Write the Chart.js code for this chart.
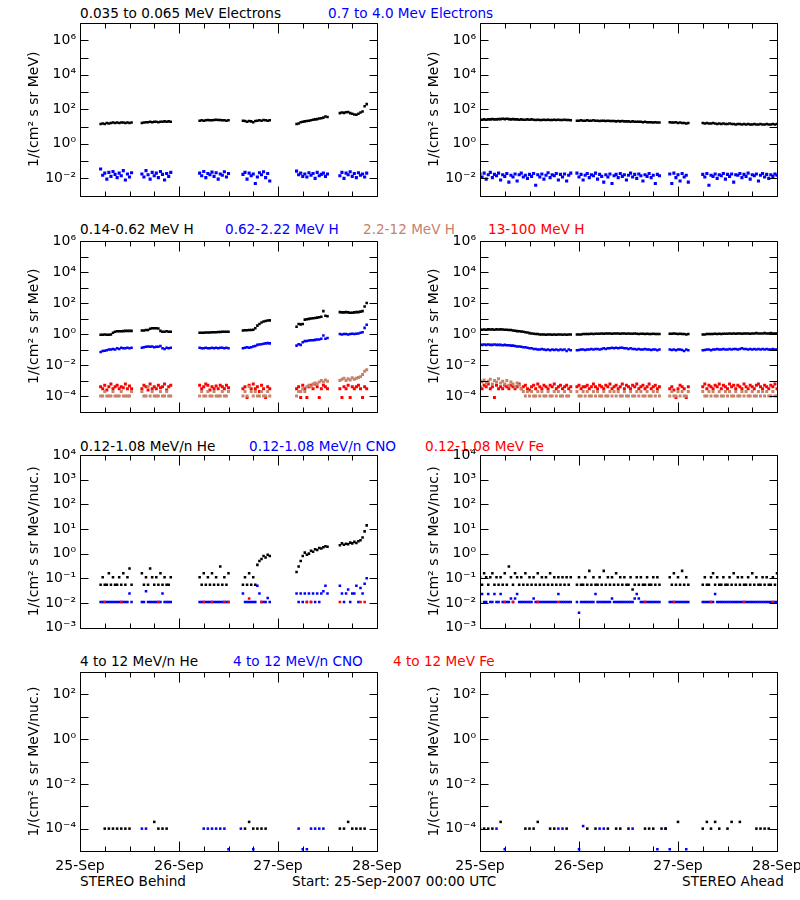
<!DOCTYPE html>
<html>
<head>
<meta charset="utf-8">
<script src="https://cdn.jsdelivr.net/npm/chart.js@4"></script>
<style>
  body { margin: 0; background: #fff; width: 800px; height: 900px; position: relative; overflow: hidden; font-family: "DejaVu Sans", sans-serif; }
  canvas { position: absolute; }
  .t { position: absolute; font-size: 13.6px; line-height: 16px; white-space: nowrap; }
</style>
</head>
<body>
<div class="t" style="left:80px;top:5px;color:#000">0.035 to 0.065 MeV Electrons</div>
<div class="t" style="left:328px;top:5px;color:#0000ff">0.7 to 4.0 Mev Electrons</div>
<div class="t" style="left:80px;top:221px;color:#000">0.14-0.62 MeV H</div>
<div class="t" style="left:225px;top:221px;color:#0000ff">0.62-2.22 MeV H</div>
<div class="t" style="left:363px;top:221px;color:#c8826a">2.2-12 MeV H</div>
<div class="t" style="left:488px;top:221px;color:#ff0000">13-100 MeV H</div>
<div class="t" style="left:80px;top:438px;color:#000">0.12-1.08 MeV/n He</div>
<div class="t" style="left:249px;top:438px;color:#0000ff">0.12-1.08 MeV/n CNO</div>
<div class="t" style="left:425px;top:438px;color:#ff0000">0.12-1.08 MeV Fe</div>
<div class="t" style="left:80px;top:653px;color:#000">4 to 12 MeV/n He</div>
<div class="t" style="left:233px;top:653px;color:#0000ff">4 to 12 MeV/n CNO</div>
<div class="t" style="left:393px;top:653px;color:#ff0000">4 to 12 MeV Fe</div>
<div class="t" style="left:80px;top:873px;color:#000">STEREO Behind</div>
<div class="t" style="left:292px;top:873px;color:#000">Start: 25-Sep-2007 00:00 UTC</div>
<div class="t" style="left:682px;top:873px;color:#000">STEREO Ahead</div>

<canvas id="b1"></canvas><canvas id="a1"></canvas>
<canvas id="b2"></canvas><canvas id="a2"></canvas>
<canvas id="b3"></canvas><canvas id="a3"></canvas>
<canvas id="b4"></canvas><canvas id="a4"></canvas>

<script>
const FONT = '"DejaVu Sans", sans-serif';
const BLACK = '#000000', BLUE = '#0000ff', BROWN = '#c8826a', RED = '#ff0000';

// x axis: hours since 25-Sep-2007 00:00 UTC
const dayHours = [0, 24, 48, 72];
const dayLabels = ['25-Sep', '26-Sep', '27-Sep', '28-Sep'];

// y tick labels per row
const elecTicks = [1e-2, 1, 1e2, 1e4, 1e6];
const protTicks = [1e-4, 1e-2, 1, 1e2, 1e4, 1e6];
const ionTicks = [1e-3, 1e-2, 1e-1, 1, 1e1, 1e2, 1e3, 1e4];
const hiTicks = [1e-4, 1e-2, 1, 1e2];

// Data segments: [start hour, values every 30 min]. Sparse series: [hour, value].

// ---- STEREO Behind ----
const behE1 = [
  [5, [14,15,14,16,15,16,17,16,17,16,17,17,16,17,16,17]],
  [15, [16,17,18,18,19,18,19,19,18,19,19,20,19,20,19]],
  [29, [22,23,22,23,24,23,23,24,25,24,24,23,23,22,23]],
  [39.5, [22,21,19,21,20,18,21,22,23,22,24,23,22,23]],
  [52.5, [14,15,18,19,20,21,22,23,25,26,27,29,30,33,38,36]],
  [63, [60,65,62,68,70,60,55,50,48,55,65,75,150,200]]
];
const behE2 = [
  [5, [0.035,0.015,0.02,0.009,0.022,0.013,0.025,0.017,0.011,0.02,0.014,0.028,0.008,0.018,0.012,0.021]],
  [15, [0.018,0.012,0.028,0.016,0.009,0.022,0.014,0.02,0.011,0.025,0.017,0.008,0.019,0.013,0.022]],
  [29, [0.02,0.014,0.025,0.011,0.019,0.016,0.023,0.013,0.021,0.009,0.018,0.015,0.024,0.012,0.019]],
  [39.5, [0.017,0.022,0.009,0.02,0.014,0.018,0.005,0.012,0.021,0.016,0.024,0.011,0.019,0.007]],
  [52.5, [0.026,0.016,0.02,0.013,0.018,0.012,0.021,0.015,0.019,0.01,0.022,0.014,0.017,0.02,0.013,0.018]],
  [63, [0.014,0.022,0.01,0.02,0.016,0.024,0.013,0.019,0.011,0.021,0.015,0.018,0.012,0.02]]
];

const behH1 = [
  [5, [0.9,0.9,0.95,0.9,0.9,0.95,1.2,1.4,1.5,1.5,1.5,1.55,1.6,1.6,1.6,1.6]],
  [15, [1.7,1.7,1.8,1.8,2.2,2.4,2.4,2.4,2.3,1.6,1.4,1.4,1.5,1.4,1.4]],
  [29, [1.2,1.2,1.2,1.25,1.25,1.25,1.3,1.3,1.3,1.35,1.35,1.4,1.4,1.4,1.4]],
  [39.5, [1.7,1.75,1.75,1.8,1.8,1.9,2.4,3.5,4.5,5.5,6.5,7,7.5,7.6]],
  [52.5, [3.0,4.4,4.2,4.5,8.5,9,9.5,10,10.5,11,11.5,12,13,30,15,14]],
  [63, [26,25,25,26,25,24,24,25,26,26,28,30,60,100]]
];
const behH2 = [
  [5, [0.07,0.08,0.085,0.09,0.1,0.1,0.11,0.1,0.12,0.11,0.13,0.12,0.12,0.13,0.12,0.13]],
  [15, [0.13,0.14,0.15,0.16,0.15,0.16,0.14,0.15,0.15,0.17,0.12,0.11,0.13,0.12,0.13]],
  [29, [0.13,0.12,0.12,0.13,0.12,0.12,0.13,0.12,0.13,0.12,0.13,0.13,0.12,0.13,0.12]],
  [39.5, [0.12,0.13,0.14,0.13,0.14,0.16,0.17,0.2,0.21,0.22,0.24,0.25,0.26,0.25]],
  [52.5, [0.18,0.22,0.2,0.3,0.35,0.36,0.38,0.4,0.4,0.42,0.45,0.45,0.5,0.8,0.5,0.55]],
  [63, [1.0,0.95,1.0,1.0,0.95,1.0,1.05,1.0,1.05,1.1,1.2,1.3,2.5,4.0]]
];
const behH3 = [
  [5, [1e-4,1e-4,2e-4,1e-4,1e-4,1e-4,2e-4,1e-4,1e-4,1e-4,2e-4,1e-4,1e-4,1e-4,1e-4,2e-4]],
  [15, [2e-4,1e-4,1e-4,4e-4,1e-4,2e-4,1e-4,1e-4,1e-4,2e-4,1e-4,1e-4,2e-4,1e-4,1e-4]],
  [29, [1e-4,2e-4,1e-4,1e-4,2e-4,1e-4,1e-4,2e-4,1e-4,1e-4,1e-4,2e-4,1e-4,1e-4,2e-4]],
  [39.5, [1e-4,2e-4,1e-4,4e-4,2e-4,1e-4,2e-4,1e-4,1e-4,2e-4,1e-4,1e-4,2e-4,1e-4]],
  [52.5, [1e-4,2e-4,2e-4,3e-4,2e-4,4e-4,5e-4,4e-4,6e-4,7e-4,6e-4,8e-4,1e-3,8e-4,1.1e-3,9e-4]],
  [63, [1e-3,1.2e-3,1.4e-3,1e-3,1.3e-3,1.1e-3,1.5e-3,1.2e-3,1.4e-3,1.6e-3,1.8e-3,2.5e-3,4e-3,5e-3]]
];
const behH4 = [
  [5, [4e-4,3e-4,5e-4,2.5e-4,4e-4,6e-4,3e-4,4e-4,5e-4,3e-4,4e-4,3.5e-4,6e-4,3e-4,4.5e-4,3e-4]],
  [15, [3e-4,5e-4,4e-4,2.5e-4,6e-4,3e-4,4e-4,3e-4,5e-4,3.5e-4,4e-4,6e-4,2.5e-4,4e-4,5e-4]],
  [29, [5e-4,3e-4,4e-4,6e-4,5e-4,2.5e-4,4e-4,3e-4,4.5e-4,3e-4,5e-4,4e-4,3e-4,5e-4,3.5e-4]],
  [39.5, [3e-4,4e-4,8e-5,5e-4,3e-4,6e-4,3e-4,4e-4,2e-4,5e-4,3e-4,8e-5,4e-4,3e-4]],
  [52.5, [3e-4,4e-4,8e-5,5e-4,3e-4,8e-5,4e-4,5e-4,3e-4,6e-4,4e-4,8e-5,3e-4,5e-4,4e-4,3e-4]],
  [63, [3e-4,8e-5,4e-4,3e-4,5e-4,8e-5,4e-4,3e-4,4e-4,5e-4,3e-4,8e-5,4e-4,3e-4]]
];

const behHe = [
  [5, [0.055,0.11,0.055,0.055,0.16,0.055,0.11,0.055,0.055,0.11,0.055,0.16,0.055,0.11,0.25,0.055]],
  [15, [0.16,0.055,0.11,0.055,0.25,0.11,0.055,0.11,0.055,0.16,0.055,0.11,0.055,0.055,0.11]],
  [29, [0.11,0.055,0.16,0.055,0.11,0.055,0.16,0.055,0.11,0.055,0.3,0.055,0.11,0.055,0.16]],
  [39.5, [0.055,0.11,0.055,0.16,0.055,0.11,0.055,0.35,0.5,0.6,0.8,0.7,0.9,0.8]],
  [52.5, [0.18,0.3,0.5,0.8,1.1,0.9,1.0,1.3,1.2,1.5,1.4,1.7,1.6,1.8,2.0,1.9]],
  [63, [2.2,2.6,2.3,2.5,2.4,2.8,2.6,3.0,2.7,3.2,3.5,4.5,8,14]]
];
const behCNO = [
  [5, [0.011,0.011,0.011,0.011,0.011,0.011,0.011,0.011,0.011,0.011,0.011,0.011,0.011,0.011,0.024,0.011]],
  [15, [0.011,0.011,0.03,0.011,0.011,0.011,0.011,0.011,0.011,0.011,0.024,0.011,0.011,0.011,0.011]],
  [29, [0.011,0.011,0.011,0.011,0.011,0.011,0.011,0.011,0.011,0.011,0.011,0.011,0.011,0.011,0.011]],
  [39.5, [0.024,0.011,0.011,0.011,0.011,0.011,0.011,0.05,0.024,0.011,0.011,0.011,0.016,0.011]],
  [52.5, [0.024,0.011,0.024,0.011,0.024,0.011,0.024,0.011,0.024,0.011,0.024,0.011,0.024,0.03,0.05,0.024]],
  [63, [0.05,0.024,0.011,0.024,0.035,0.011,0.024,0.024,0.05,0.011,0.04,0.024,0.06,0.1]]
];
const behFe = [[6,0.011],[10,0.011],[19,0.011],[30,0.011],[32,0.011],[35,0.011],[36,0.011],[41,0.015],[44,0.011],[55,0.011],[56,0.011],[63,0.011],[68,0.011],[69,0.011]];

const behHe4 = [[6,1e-4],[7,1e-4],[8,1e-4],[9,1e-4],[10,1e-4],[11,1e-4],[12,1e-4],[18,2e-4],[19,1e-4],[20,1e-4],[21,1e-4],[40,1e-4],[41,2e-4],[42,1e-4],[43,1e-4],[44,1e-4],[45,1e-4],[63,1e-4],[64,1e-4],[65,2e-4],[66,1e-4],[67,1e-4],[68,1e-4],[69,1e-4]];
const behCNO4 = [[15,1e-4],[16,1e-4],[30,1e-4],[31,1e-4],[32,1e-4],[33,1e-4],[34,1e-4],[35,1e-4],[36,1.2e-5],[39,1e-4],[42,1.2e-5],[53,1e-4],[54,1.2e-5],[55,1.2e-5],[56,1e-4],[57,1e-4],[58,1e-4],[59,1e-4]];
const behFe4 = [];

// ---- STEREO Ahead ----
const ahdE1 = [
  [0, [25,25,26,25,26,26,27,26,26,27,27,28,27,28,27,26,27,26,26,25,26,25,25,26,25,26,25,24,25,24,24,25,24,25,24,24,25,24,25,24,24,25,24,24,23]],
  [23.5, [22,22,23,22,22,23,22,22,23,22,22,21,22,22,21,22,21,21,21,20,21,20,21,20,20,20,19,20,19,19,19,19,18,19,18,18,18,17,18,17,17]],
  [46, [18,17,17,18,16,17,16,16,15,16]],
  [54, [16,15,16,15,15,16,15,14,15,14,15,14,14,15,14,14,13,14,14,13,14,13,14,13,13,14,13,13,14,13,13,14,13,13,14,13,14]]
];
const ahdE2 = [
  [0, [0.018,0.012,0.02,0.009,0.016,0.022,0.011,0.017,0.014,0.02,0.008,0.016,0.013,0.019,0.006,0.015,0.012,0.018,0.007,0.016,0.02,0.012,0.015,0.01,0.017,0.013,0.019,0.004,0.016,0.012,0.018,0.009,0.015,0.021,0.011,0.016,0.014,0.019,0.008,0.017,0.012,0.018,0.007,0.015,0.02]],
  [23.5, [0.02,0.012,0.017,0.008,0.015,0.019,0.011,0.016,0.014,0.02,0.009,0.017,0.013,0.006,0.016,0.012,0.018,0.005,0.014,0.017,0.011,0.019,0.013,0.016,0.008,0.015,0.02,0.012,0.017,0.01,0.018,0.014,0.007,0.016,0.013,0.019,0.011,0.015,0.005,0.017,0.014]],
  [46, [0.018,0.005,0.02,0.011,0.016,0.007,0.019,0.012,0.015,0.006]],
  [54, [0.017,0.012,0.019,0.004,0.015,0.013,0.018,0.01,0.016,0.014,0.019,0.009,0.017,0.013,0.018,0.006,0.016,0.015,0.019,0.011,0.017,0.013,0.02,0.009,0.016,0.014,0.018,0.007,0.015,0.019,0.012,0.017,0.01,0.016,0.013,0.018,0.015]]
];

const ahdH1 = [
  [0, [1.9,1.9,1.95,1.9,2.0,1.95,2.0,1.9,2.0,1.95,2.0,1.95,1.9,1.9,1.85,1.8,1.7,1.65,1.55,1.5,1.45,1.4,1.3,1.25,1.15,1.1,1.05,1.0,1.0,0.95,0.95,0.95,0.9,0.95,0.95,0.9,0.95,0.9,0.95,0.95,0.9,0.95,0.9,0.95,0.95]],
  [23.5, [0.95,0.95,0.95,1.0,1.0,1.0,1.0,1.05,1.0,1.05,1.05,1.05,1.1,1.05,1.1,1.1,1.1,1.05,1.1,1.1,1.1,1.05,1.1,1.1,1.05,1.1,1.05,1.05,1.1,1.05,1.0,1.05,1.05,1.0,1.05,1.0,1.0,1.05,1.0,1.0,1.0]],
  [46, [1.05,1.05,1.1,1.05,1.0,1.05,1.0,1.0,0.95,1.0]],
  [54, [0.95,0.95,1.0,1.0,1.0,1.0,1.05,1.0,1.05,1.0,1.05,1.05,1.05,1.1,1.05,1.1,1.05,1.1,1.1,1.05,1.1,1.1,1.1,1.05,1.1,1.1,1.15,1.1,1.1,1.1,1.15,1.1,1.1,1.15,1.1,1.1,1.1]]
];
const ahdH2 = [
  [0, [0.21,0.2,0.21,0.2,0.21,0.2,0.2,0.21,0.2,0.2,0.2,0.19,0.2,0.19,0.19,0.18,0.18,0.17,0.16,0.16,0.15,0.14,0.14,0.13,0.12,0.12,0.11,0.11,0.1,0.1,0.11,0.1,0.095,0.1,0.09,0.1,0.095,0.1,0.09,0.1,0.095,0.1,0.08,0.1,0.09]],
  [23.5, [0.09,0.095,0.1,0.1,0.095,0.1,0.1,0.11,0.1,0.11,0.11,0.1,0.11,0.12,0.11,0.12,0.12,0.13,0.12,0.13,0.12,0.13,0.13,0.12,0.12,0.11,0.12,0.11,0.11,0.1,0.11,0.1,0.1,0.11,0.1,0.1,0.095,0.1,0.1,0.09,0.1]],
  [46, [0.1,0.095,0.1,0.09,0.1,0.1,0.095,0.08,0.1,0.09]],
  [54, [0.09,0.095,0.1,0.1,0.09,0.1,0.1,0.11,0.1,0.1,0.11,0.1,0.1,0.11,0.1,0.11,0.11,0.1,0.11,0.12,0.11,0.11,0.1,0.11,0.1,0.11,0.1,0.11,0.1,0.11,0.1,0.11,0.1,0.1,0.11,0.1,0.1]]
];
const ahdH3 = [
  [0, [1e-3,8e-4,1.1e-3,7e-4,9e-4,1.2e-3,6e-4,1e-3,8e-4,1.3e-3,7e-4,9e-4,6e-4,1e-3,5e-4,8e-4,6e-4,4e-4,7e-4,5e-4,3e-4,2e-4,1e-4,2e-4,1e-4,2e-4,1e-4,1e-4,2e-4,1e-4,2e-4,1e-4,1e-4,2e-4,1e-4,1e-4,2e-4,1e-4,2e-4,1e-4,1e-4,2e-4,1e-4,1e-4,2e-4]],
  [23.5, [2e-4,1e-4,1e-4,2e-4,1e-4,2e-4,1e-4,1e-4,2e-4,1e-4,2e-4,1e-4,1e-4,2e-4,1e-4,1e-4,2e-4,1e-4,2e-4,1e-4,2e-4,1e-4,1e-4,2e-4,1e-4,1e-4,2e-4,1e-4,1e-4,2e-4,1e-4,2e-4,1e-4,1e-4,2e-4,1e-4,1e-4,2e-4,1e-4,2e-4,1e-4]],
  [46, [1e-4,2e-4,1e-4,1e-4,2e-4,1e-4,2e-4,1e-4,1e-4,2e-4]],
  [54, [2e-4,1e-4,1e-4,2e-4,1e-4,2e-4,1e-4,1e-4,2e-4,1e-4,1e-4,2e-4,1e-4,2e-4,1e-4,1e-4,2e-4,1e-4,1e-4,2e-4,1e-4,2e-4,1e-4,1e-4,2e-4,1e-4,1e-4,2e-4,1e-4,2e-4,1e-4,2e-4,1e-4,1e-4,2e-4,1e-4,1e-4]]
];
const ahdH4 = [
  [0, [4e-4,3e-4,5e-4,4e-4,6e-4,3e-4,4e-4,8e-5,5e-4,3e-4,4e-4,3e-4,5e-4,4e-4,3e-4,5e-4,4e-4,3e-4,4e-4,6e-4,3e-4,4e-4,5e-4,3e-4,2.5e-4,4e-4,5e-4,3e-4,6e-4,4e-4,3e-4,5e-4,4e-4,3e-4,5e-4,4e-4,6e-4,3e-4,4e-4,5e-4,3e-4,4e-4,5e-4,3e-4,4e-4]],
  [23.5, [4e-4,5e-4,3e-4,4e-4,4e-4,5e-4,3e-4,4e-4,6e-4,4e-4,3e-4,5e-4,4e-4,3e-4,5e-4,4e-4,6e-4,3e-4,4e-4,5e-4,3e-4,4e-4,6e-4,3e-4,5e-4,4e-4,3e-4,5e-4,4e-4,6e-4,3e-4,4e-4,5e-4,3e-4,4e-4,6e-4,3e-4,4e-4,5e-4,3e-4,4e-4]],
  [46, [3e-4,4e-4,2.5e-4,8e-5,3e-4,5e-4,4e-4,3e-4,8e-5,4e-4]],
  [54, [4e-4,6e-4,3e-4,5e-4,4e-4,3e-4,5e-4,4e-4,6e-4,3e-4,5e-4,4e-4,3e-4,6e-4,4e-4,5e-4,3e-4,5e-4,4e-4,3e-4,6e-4,4e-4,3e-4,5e-4,4e-4,3e-4,5e-4,6e-4,4e-4,3e-4,5e-4,4e-4,3e-4,5e-4,4e-4,6e-4,3e-4]]
];

const ahdHe = [
  [0, [0.11,0.055,0.16,0.11,0.055,0.11,0.16,0.055,0.11,0.055,0.11,0.055,0.16,0.055,0.3,0.11,0.055,0.16,0.11,0.055,0.11,0.055,0.16,0.055,0.11,0.055,0.11,0.055,0.16,0.055,0.11,0.055,0.11,0.055,0.16,0.055,0.11,0.055,0.11,0.055,0.11,0.055,0.11,0.055,0.11]],
  [23.5, [0.055,0.11,0.055,0.055,0.11,0.055,0.2,0.055,0.11,0.055,0.055,0.11,0.055,0.2,0.055,0.11,0.055,0.11,0.055,0.16,0.055,0.11,0.055,0.11,0.055,0.055,0.11,0.035,0.055,0.11,0.055,0.11,0.055,0.055,0.11,0.055,0.055,0.11,0.055,0.11,0.055]],
  [46, [0.11,0.055,0.16,0.055,0.11,0.055,0.2,0.055,0.11,0.055]],
  [54, [0.055,0.11,0.055,0.055,0.11,0.16,0.055,0.11,0.055,0.055,0.11,0.055,0.055,0.11,0.055,0.16,0.055,0.11,0.055,0.11,0.055,0.055,0.11,0.055,0.16,0.055,0.11,0.055,0.055,0.11,0.055,0.11,0.055,0.055,0.11,0.055,0.16]]
];
const ahdCNO = [
  [0, [0.011,0.023,0.011,0.011,0.023,0.011,0.011,0.023,0.011,0.011,0.023,0.011,0.011,0.011,0.011,0.015,0.011,0.015,0.023,0.011,0.011,0.011,0.011,0.011,0.011,0.011,0.015,0.011,0.011,0.011,0.011,0.011,0.011,0.011,0.011,0.011,0.011,0.011,0.023,0.011,0.011,0.011,0.011,0.011,0.011]],
  [23.5, [0.011,0.004,0.011,0.011,0.011,0.011,0.011,0.011,0.011,0.023,0.011,0.011,0.011,0.011,0.011,0.011,0.011,0.015,0.011,0.011,0.011,0.011,0.011,0.011,0.011,0.011,0.011,0.011,0.015,0.023,0.015,0.011,0.011,0.011,0.011,0.011,0.011,0.011,0.011,0.011,0.011]],
  [46, [0.011,0.011,0.011,0.011,0.011,0.011,0.011,0.011,0.011,0.011]],
  [54, [0.011,0.011,0.011,0.011,0.011,0.011,0.023,0.011,0.011,0.011,0.011,0.011,0.011,0.011,0.011,0.011,0.011,0.011,0.011,0.011,0.011,0.011,0.011,0.011,0.011,0.011,0.011,0.011,0.011,0.011,0.011,0.011,0.011,0.011,0.011,0.011,0.011]]
];
const ahdFe = [[6,0.011],[8,0.011],[14,0.011],[19,0.011],[40,0.011],[47,0.011],[56,0.011],[64,0.011],[71,0.011]];

const ahdHe4 = [[0,1e-4],[1,1e-4],[2,1e-4],[3,1e-4],[5,2e-4],[11,1e-4],[12,1e-4],[13,1e-4],[14,2e-4],[17,1e-4],[18,1e-4],[21,1e-4],[26,1e-4],[28,1e-4],[31,1e-4],[33,1e-4],[34,1e-4],[36,1e-4],[40,1e-4],[41,1e-4],[42,1e-4],[44,1e-4],[45,1e-4],[48,2e-4],[54,1e-4],[55,2e-4],[56,1e-4],[57,2e-4],[58,1e-4],[60,1e-4],[61,2e-4],[63,2e-4],[67,1e-4],[68,1e-4],[69,1e-4],[70,1e-4]];
const ahdCNO4 = [[4,1e-4],[6,1.2e-5],[19,1e-4],[20,1e-4],[24,1.2e-5],[25,1.3e-4],[29,1e-4],[30,1e-4],[37,1e-4],[43,1.2e-5],[45,1e-4],[46,1.2e-5],[50,1.2e-5]];
const ahdFe4 = [];

// segments -> {x,y}; sparse [hour, value] pairs pass straight through
function pts(arr) {
  const out = [];
  arr.forEach(item => {
    if (Array.isArray(item[1])) {
      item[1].forEach((v, i) => out.push({x: item[0] + i * 0.5, y: v}));
    } else {
      out.push({x: item[0], y: item[1]});
    }
  });
  return out;
}

const SUP = {'0':'\u2070','1':'\u00b9','2':'\u00b2','3':'\u00b3','4':'\u2074','5':'\u2075','6':'\u2076','7':'\u2077','8':'\u2078','9':'\u2079','-':'\u207b'};
function pow10Label(v) {
  const e = String(Math.round(Math.log10(v)));
  return '10' + e.split('').map(c => SUP[c]).join('');
}

// box with inward ticks on all four sides
const framePlugin = {
  id: 'frame',
  afterDatasetsDraw(chart) {
    const {ctx, chartArea: a, scales: {x, y}} = chart;
    const L = Math.round(a.left) + 0.5, R = Math.round(a.right) + 0.5;
    const T = Math.round(a.top) + 0.5, B = Math.round(a.bottom) + 0.5;
    ctx.save();
    ctx.strokeStyle = '#000';
    ctx.lineWidth = 1;
    ctx.beginPath();
    ctx.rect(L, T, R - L, B - T);
    const e0 = Math.ceil(Math.log10(y.min) - 1e-9), e1 = Math.floor(Math.log10(y.max) + 1e-9);
    for (let e = e0; e <= e1; e++) {
      const py = Math.round(y.getPixelForValue(Math.pow(10, e))) + 0.5;
      ctx.moveTo(L, py); ctx.lineTo(L + 8, py);
      ctx.moveTo(R - 8, py); ctx.lineTo(R, py);
    }
    for (let h = 0; h <= 72; h += 6) {
      const px = Math.round(x.getPixelForValue(h)) + 0.5;
      const len = h % 24 === 0 ? 10 : 5;
      ctx.moveTo(px, B); ctx.lineTo(px, B - len);
      ctx.moveTo(px, T); ctx.lineTo(px, T + len);
    }
    ctx.stroke();
    ctx.restore();
  }
};

const yTitle1 = '1/(cm\u00b2 s sr MeV)';
const yTitle2 = '1/(cm\u00b2 s sr MeV/nuc.)';

const rows = [
  {top: 3,   h: 205, bottom: 203, min: 1e-3, max: 1e7, ticks: elecTicks, title: yTitle1},
  {top: 221, h: 203, bottom: 419, min: 1e-5, max: 1e6, ticks: protTicks, title: yTitle1},
  {top: 435, h: 205, bottom: 635, min: 1e-3, max: 1e4, ticks: ionTicks, title: yTitle2},
  {top: 652, h: 248, bottom: 851, min: 1e-5, max: 1e3, ticks: hiTicks, title: yTitle2}
];

// s = [data, colour, point radius]
function panel(id, left, row, sets, showX) {
  const c = document.getElementById(id);
  c.width = 420; c.height = row.h;
  c.style.left = left + 'px'; c.style.top = row.top + 'px';
  new Chart(c, {
    type: 'scatter',
    data: {
      datasets: sets.map(s => ({
        data: pts(s[0]),
        backgroundColor: s[1],
        borderWidth: 0,
        pointStyle: 'rect',
        pointRadius: s[2] || 1.8,
        pointHoverRadius: s[2] || 1.8
      }))
    },
    options: {
      responsive: false,
      animation: false,
      events: [],
      layout: {padding: {top: 20, right: 43, bottom: 0, left: 0}},
      plugins: {legend: {display: false}, tooltip: {enabled: false}},
      scales: {
        x: {
          type: 'linear', min: 0, max: 72,
          grid: {display: false, drawTicks: false},
          border: {display: false},
          afterBuildTicks: s => { s.ticks = dayHours.map(v => ({value: v})); },
          afterFit: s => { s.height = row.h - (row.bottom - row.top); s.paddingLeft = 0; s.paddingRight = 0; },
          ticks: {
            display: showX, autoSkip: false, maxRotation: 0, padding: 7, color: '#000',
            font: {family: FONT, size: 14},
            callback: v => dayLabels[dayHours.indexOf(v)]
          }
        },
        y: {
          type: 'logarithmic', min: row.min, max: row.max,
          grid: {display: false, drawTicks: false},
          border: {display: false},
          afterBuildTicks: s => { s.ticks = row.ticks.map(v => ({value: v})); },
          afterFit: s => { s.width = 80; },
          ticks: {autoSkip: false, padding: 4, color: '#000', font: {family: FONT, size: 14}, callback: v => pow10Label(v)},
          title: {display: true, text: row.title, color: '#000', font: {family: FONT, size: 14}, padding: {top: 26, bottom: 0}}
        }
      }
    },
    plugins: [framePlugin]
  });
}

panel('b1', 0,   rows[0], [[behE1, BLACK], [behE2, BLUE, 2.2]], false);
panel('a1', 400, rows[0], [[ahdE1, BLACK], [ahdE2, BLUE, 2.2]], false);
panel('b2', 0,   rows[1], [[behH1, BLACK], [behH2, BLUE], [behH3, BROWN, 2.1], [behH4, RED, 2.1]], false);
panel('a2', 400, rows[1], [[ahdH1, BLACK], [ahdH2, BLUE], [ahdH3, BROWN, 2.1], [ahdH4, RED, 2.1]], false);
panel('b3', 0,   rows[2], [[behHe, BLACK], [behFe, RED], [behCNO, BLUE]], false);
panel('a3', 400, rows[2], [[ahdHe, BLACK], [ahdFe, RED], [ahdCNO, BLUE]], false);
panel('b4', 0,   rows[3], [[behHe4, BLACK], [behFe4, RED], [behCNO4, BLUE]], true);
panel('a4', 400, rows[3], [[ahdHe4, BLACK], [ahdFe4, RED], [ahdCNO4, BLUE]], true);
</script>
</body>
</html>
